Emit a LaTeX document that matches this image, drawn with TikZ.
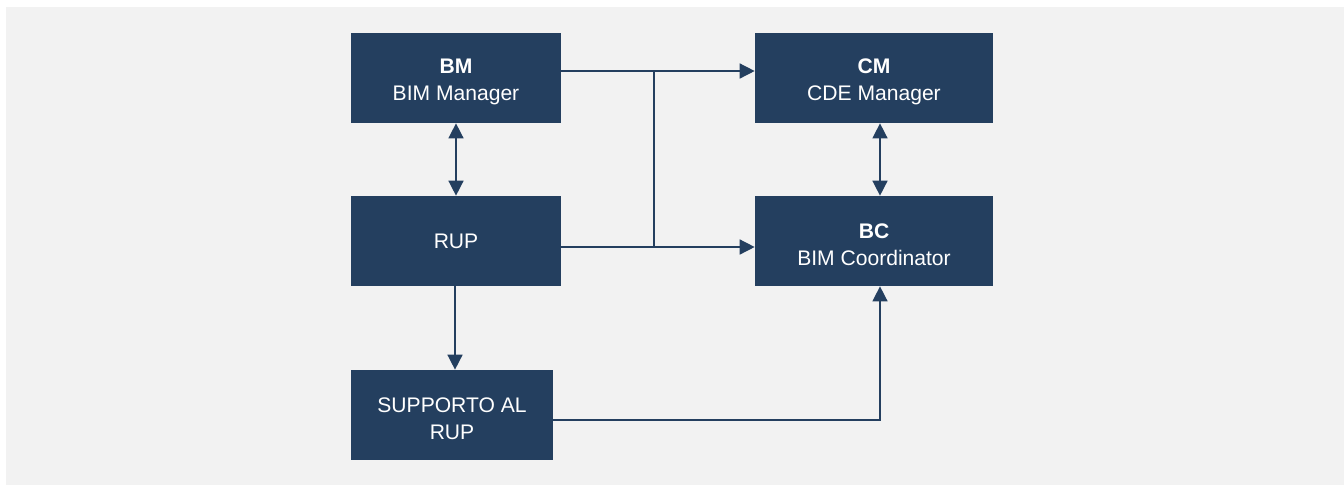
\documentclass[tikz,border=0pt]{standalone}
\usepackage{fontspec}
\setmainfont{Liberation Sans}
\usetikzlibrary{arrows.meta,positioning}
\definecolor{navy}{HTML}{243F5F}
\definecolor{panel}{HTML}{F2F2F2}
\tikzset
{
    rolebox/.style = {rectangle, fill=navy, text=white, align=center, minimum height=1.8cm, inner sep=0pt, font=\fontsize{12}{15.4}\selectfont},
    twoline/.style = {text height=28.5pt},
    link/.style    = {draw=navy, line width=0.85pt},
    arrow/.style   = {link, -{Triangle[length=0.3cm, width=0.3cm]}},
    biarrow/.style = {link, {Triangle[length=0.3cm, width=0.3cm]}-{Triangle[length=0.3cm, width=0.3cm]}}
}
\begin{document}
\begin{tikzpicture}[x=0.02cm, y=-0.02cm]
		\useasboundingbox (0,0) rectangle (1344,485);
		\fill[panel] (6,7) rectangle (1344,485);
		\node (bm)	[rolebox, twoline, minimum width=4.2cm] 	at (456,78)		{\textbf{BM} \\ BIM Manager};
		\node (cm)	[rolebox, twoline, minimum width=4.76cm] 	at (874,78)		{\textbf{CM} \\ CDE Manager};
		\node (rup)	[rolebox, minimum width=4.2cm] 				at (456,241)	{RUP};
		\node (bc)	[rolebox, twoline, minimum width=4.76cm] 	at (874,241)	{\textbf{BC} \\ BIM Coordinator};
		\node (sup)	[rolebox, twoline, minimum width=4.04cm] 	at (452,415)	{SUPPORTO AL \\ RUP};
		\coordinate (bmout)		at ([yshift=0.14cm]bm.east);
		\coordinate (rupout)	at ([yshift=-0.12cm]rup.east);
		\coordinate (jt)		at (654,71);
		\coordinate (jb)		at (654,247);
		\draw[biarrow] (bm.south) -- (rup.north);
		\draw[biarrow] ([xshift=0.12cm]cm.south) -- ([xshift=0.12cm]bc.north);
		\draw[arrow] (rup.south -| 455,0) -- (sup.north -| 455,0);
		\draw[arrow] (bmout) -- (bmout -| cm.west);
		\draw[arrow] (rupout) -- (rupout -| bc.west);
		\draw[link] (jt) -- (jb);
		\draw[arrow] ([yshift=-0.1cm]sup.east) -| ([xshift=0.12cm]bc.south);
	\end{tikzpicture}
\end{document}
